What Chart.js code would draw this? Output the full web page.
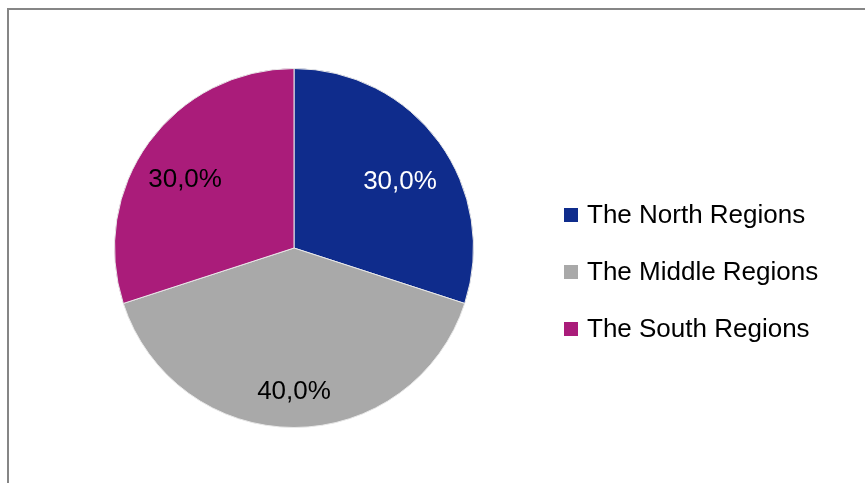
<!DOCTYPE html>
<html>
<head>
<meta charset="utf-8">
<script src="https://cdn.jsdelivr.net/npm/chart.js@4/dist/chart.umd.min.js"></script>
<style>
  html, body { margin: 0; padding: 0; background: #fff; overflow: hidden; }
  #frame {
    position: absolute; left: 7px; top: 8px; width: 900px; height: 500px;
    border-left: 2px solid #868686; border-top: 2px solid #868686;
  }
  #wrap { position: absolute; left: 0; top: 0; width: 865px; height: 483px; }
</style>
</head>
<body>
<div id="frame"></div>
<div id="wrap"><canvas id="pieChart"></canvas></div>
<script>
// chart data
var regions = ['The North Regions', 'The Middle Regions', 'The South Regions'];
var shares = [30, 40, 30];
var sliceColors = ['#0F2C8C', '#A9A9A9', '#AA1C7A'];
var labelColors = ['#FFFFFF', '#000000', '#000000'];

// labels inside the slices, legend on the right
var pieLabels = {
  id: 'pieLabels',
  afterDatasetsDraw: function(chart, args, opts) {
    var ctx = chart.ctx;
    var meta = chart.getDatasetMeta(0);
    var total = shares.reduce(function(a, b) { return a + b; }, 0);
    ctx.save();
    ctx.font = '26px "Liberation Sans", Arial, sans-serif';
    ctx.textAlign = 'center';
    ctx.textBaseline = 'middle';
    meta.data.forEach(function(arc, i) {
      var mid = (arc.startAngle + arc.endAngle) / 2;
      var r = arc.outerRadius * opts.radius[i];
      var x = arc.x + Math.cos(mid) * r;
      var y = arc.y + Math.sin(mid) * r + opts.dy;
      var txt = (shares[i] / total * 100).toFixed(1).replace('.', ',') + '%';
      ctx.fillStyle = labelColors[i];
      ctx.fillText(txt, x, y);
    });

    // legend
    ctx.textAlign = 'left';
    regions.forEach(function(name, i) {
      var y = opts.legendTop + i * opts.legendGap;
      ctx.fillStyle = sliceColors[i];
      ctx.fillRect(opts.legendX, y - 7, 14, 14);
      ctx.fillStyle = '#000';
      ctx.fillText(name, opts.legendX + 23, y + 1);
    });
    ctx.restore();
  }
};

var ctx = document.getElementById('pieChart');
window.pieChart = new Chart(ctx, {
  type: 'pie',
  data: {
    labels: regions,
    datasets: [{
      data: shares,
      backgroundColor: sliceColors,
      borderColor: '#E8E8E8',
      borderWidth: 1
    }]
  },
  options: {
    responsive: true,
    maintainAspectRatio: false,
    animation: false,
    layout: { padding: { top: 68, bottom: 55, left: 114, right: 391 } },
    plugins: {
      legend: { display: false },
      tooltip: { enabled: false },
      pieLabels: { radius: [0.73, 0.74, 0.75], dy: 11, legendX: 564, legendTop: 215, legendGap: 57 }
    }
  },
  plugins: [pieLabels]
});
</script>
</body>
</html>
